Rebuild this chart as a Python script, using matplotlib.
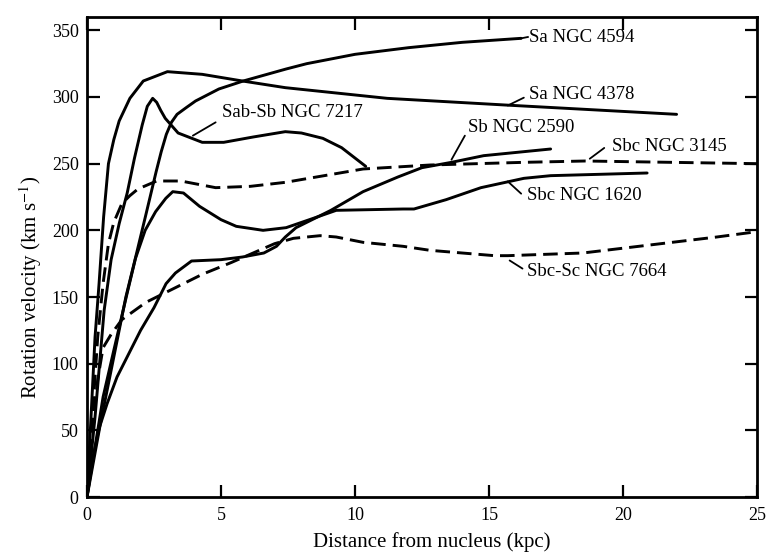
import matplotlib
matplotlib.use("Agg")
import matplotlib.pyplot as plt

plt.rcParams['font.family'] = ['Liberation Serif', 'DejaVu Serif']
plt.rcParams['mathtext.fontset'] = 'stix'

# ---- data (distance in kpc, velocity in km/s) ----
x_4594 = [0, 0.5, 1.0, 1.45, 1.78, 2.2, 2.58, 2.77, 2.96, 3.15, 3.36, 3.7, 4.05, 4.92, 5.83, 7.43, 8.2, 10, 12, 14, 16.2]
v_4594 = [0, 55, 105, 150, 177, 212, 244, 259, 272, 281, 287, 292, 297, 306, 312, 321, 325, 332, 337, 341, 344]

x_4378 = [0, 0.15, 0.3, 0.45, 0.62, 0.8, 1.0, 1.2, 1.6, 2.1, 3.0, 4.3, 5.8, 7.4, 11.2, 15.6, 22.0]
v_4378 = [0, 60, 120, 160, 210, 250, 268, 282, 299, 312, 319, 317, 312, 307, 299, 294, 287]

x_7217 = [0, 0.3, 0.64, 0.9, 1.2, 1.5, 1.77, 2.06, 2.25, 2.45, 2.6, 2.75, 2.92, 3.4, 4.3, 5.1, 6.2, 7.4, 8.0, 8.8, 9.5, 10.4]
v_7217 = [0, 60, 140, 178, 205, 228, 254, 279, 293, 299, 296, 290, 284, 273, 266, 266, 270, 274, 273, 269, 262, 248]

x_2590 = [0, 0.2, 0.46, 0.75, 1.12, 2.0, 2.5, 2.95, 3.3, 3.9, 5.0, 5.8, 6.6, 7.07, 7.4, 7.8, 9.1, 10.3, 11.6, 12.5, 13.6, 14.8, 17.3]
v_2590 = [0, 28, 52, 70, 90, 125, 142, 160, 168, 177, 178, 180, 183, 188, 195, 202, 215, 229, 240, 247, 251, 256, 261]

x_3145 = [0, 0.2, 0.4, 0.6, 0.8, 1.0, 1.3, 1.6, 1.9, 2.6, 3.5, 4.8, 6.1, 7.4, 10.3, 12.8, 16.3, 18.6, 25.0]
v_3145 = [0, 60, 120, 160, 190, 206, 220, 226, 231, 237, 237, 232, 233, 236, 246, 249, 251, 252, 250]

x_1620 = [0, 0.6, 1.0, 1.5, 1.81, 2.17, 2.56, 2.94, 3.2, 3.6, 4.2, 5.0, 5.57, 6.57, 7.43, 8.3, 9.3, 11.8, 12.2, 13.4, 14.7, 16.3, 17.3, 20.9]
v_1620 = [0, 75, 110, 153, 179, 200, 214, 224, 229, 228, 218, 208, 203, 200, 202, 208, 215, 216, 216, 223, 232, 239, 241, 243]

x_7664 = [0, 0.2, 0.4, 0.6, 0.9, 1.3, 2.2, 3.4, 4.3, 5.4, 6.2, 7.0, 7.7, 8.7, 9.3, 10.3, 11.8, 12.8, 15.2, 15.7, 18.5, 21.0, 23.5, 25.0]
v_7664 = [0, 50, 88, 112, 122, 133, 146, 158, 167, 176, 183, 190, 194, 196, 195, 191, 188, 185, 181, 181, 183, 189, 195, 199]

labels = ["Sa NGC 4594", "Sa NGC 4378", "Sab-Sb NGC 7217", "Sb NGC 2590",
          "Sbc NGC 3145", "Sbc NGC 1620", "Sbc-Sc NGC 7664"]
x_ticks = [0, 5, 10, 15, 20, 25]
y_ticks = [0, 50, 100, 150, 200, 250, 300, 350]

# ---- figure ----
W, H = 771, 556
fig = plt.figure(figsize=(W / 100, H / 100), dpi=100)
ax = fig.add_axes([87 / W, (H - 497) / H, 670 / W, 480 / H])

solid = dict(color='black', lw=2.1, solid_capstyle='round', solid_joinstyle='round')
dashed = dict(color='black', lw=2.1, linestyle=(0, (5, 2.4)))

ax.plot(x_4594, v_4594, **solid)
ax.plot(x_4378, v_4378, **solid)
ax.plot(x_7217, v_7217, **solid)
ax.plot(x_2590, v_2590, **solid)
ax.plot(x_3145, v_3145, **dashed)
ax.plot(x_1620, v_1620, **solid)
ax.plot(x_7664, v_7664, **dashed)

ax.set_xlim(0, 25)
ax.set_ylim(0, 360)
ax.set_xticks(x_ticks)
ax.set_yticks(y_ticks)
ax.tick_params(direction='in', length=9, width=1.6, top=True, right=True,
               labelsize=13, pad=6)
ax.tick_params(axis='x', pad=7)
for s in ax.spines.values():
    s.set_linewidth(2.0)

# labels with leader lines
fs = 13.5
lead = dict(arrowstyle='-', lw=1.3, color='black', shrinkA=0, shrinkB=0)

ax.plot([16.2, 16.45], [344, 345], color='black', lw=1.3)
ax.text(16.5, 345, labels[0], fontsize=fs, ha='left', va='center')

ax.annotate('', xy=(15.7, 293.6), xytext=(16.3, 299.5), arrowprops=lead)
ax.text(16.5, 301.6, labels[1], fontsize=fs, ha='left', va='center')

ax.annotate('', xy=(3.95, 271), xytext=(4.8, 281), arrowprops=lead)
ax.text(5.05, 288, labels[2], fontsize=fs, ha='left', va='center')

ax.annotate('', xy=(13.6, 253), xytext=(14.1, 271), arrowprops=lead)
ax.text(14.2, 277, labels[3], fontsize=fs, ha='left', va='center')

ax.annotate('', xy=(18.76, 253.7), xytext=(19.3, 261.8), arrowprops=lead)
ax.text(19.6, 263.2, labels[4], fontsize=fs, ha='left', va='center')

ax.annotate('', xy=(15.7, 236.7), xytext=(16.2, 227.5), arrowprops=lead)
ax.text(16.4, 226, labels[5], fontsize=fs, ha='left', va='center')

ax.annotate('', xy=(15.77, 177.4), xytext=(16.25, 171.3), arrowprops=lead)
ax.text(16.4, 169, labels[6], fontsize=fs, ha='left', va='center')

fig.text(432 / W, 1 - 542 / H, "Distance from nucleus (kpc)", fontsize=15,
         ha='center', va='center')
fig.text(31 / W, 1 - 287 / H, r"Rotation velocity (km s$^{-1}$)", fontsize=15,
         ha='center', va='center', rotation=90)

fig.savefig("out.png", dpi=100)
